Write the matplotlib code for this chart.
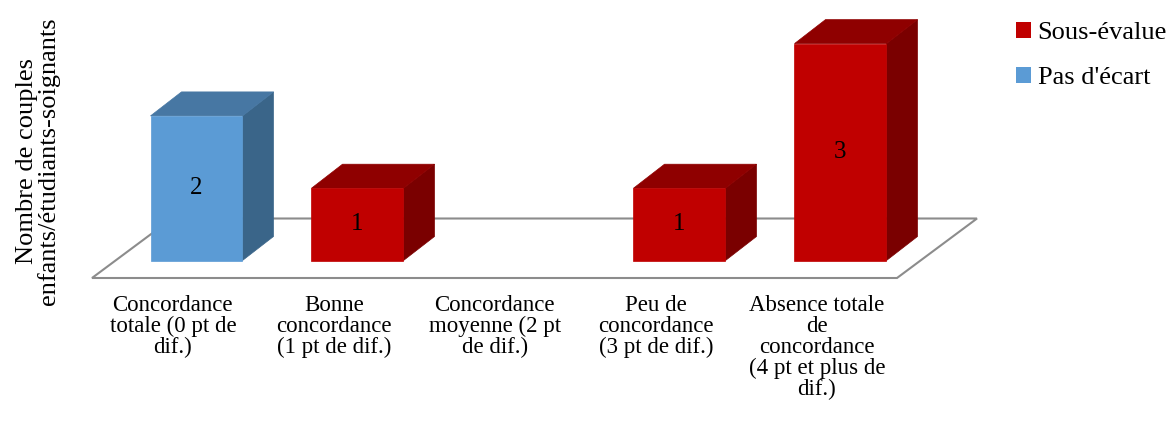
import matplotlib
matplotlib.use("Agg")
import matplotlib.pyplot as plt
from matplotlib.patches import Polygon, Patch

plt.rcParams["font.family"] = ["Liberation Serif", "DejaVu Serif"]

categories = [
    "Concordance\ntotale (0 pt de\ndif.)",
    "Bonne\nconcordance\n(1 pt de dif.)",
    "Concordance\nmoyenne (2 pt\nde dif.)",
    "Peu de\nconcordance\n(3 pt de dif.)",
    "Absence totale\nde\nconcordance\n(4 pt et plus de\ndif.)",
]
sous_evalue = [0, 1, 0, 1, 3]
pas_ecart = [2, 0, 0, 0, 0]
ylabel = "Nombre de couples\nenfants/étudiants-soignants"

W, H = 1170, 425
X0, XSTEP = 196.5, 161.0
Y0, YSTEP = 260.5, 72.3


def xpx(p):
    return (p - X0) / XSTEP


def ypx(p):
    return (Y0 - p) / YSTEP


fig = plt.figure(figsize=(W / 100, H / 100), dpi=100)
ax = fig.add_axes([0, 0, 1, 1])
ax.set_xlim(xpx(0), xpx(W))
ax.set_ylim(ypx(H), ypx(0))
ax.axis("off")

bar_w = 92 / XSTEP
dx = 31 / XSTEP
dy = 24 / YSTEP

# floor of the 3d plot
floor = [(92, 278), (897, 278), (977, 218.5), (172, 218.5)]
ax.add_patch(Polygon([(xpx(a), ypx(b)) for a, b in floor], closed=True,
                     facecolor="white", edgecolor="#8c8c8c", lw=1.5, zorder=1))


def bar3d(x, v, front, top, side):
    l, r = x - bar_w / 2, x + bar_w / 2
    ax.add_patch(Polygon([(r, 0), (r + dx, dy), (r + dx, v + dy), (r, v)],
                         facecolor=side, edgecolor=side, lw=0.5, zorder=2))
    ax.add_patch(Polygon([(l, v), (r, v), (r + dx, v + dy), (l + dx, v + dy)],
                         facecolor=top, edgecolor=top, lw=0.5, zorder=2))
    ax.add_patch(Polygon([(l, 0), (r, 0), (r, v), (l, v)],
                         facecolor=front, edgecolor=front, lw=0.5, zorder=3))
    ax.text(x, v / 2, str(v), ha="center", va="center", fontsize=18,
            color="black", zorder=4)


for i, v in enumerate(sous_evalue):
    if v > 0:
        bar3d(i, v, "#c00000", "#8f0000", "#7a0000")
for i, v in enumerate(pas_ecart):
    if v > 0:
        bar3d(i, v, "#5b9bd5", "#4777a3", "#3a6589")

for i, c in enumerate(categories):
    ax.text(i - 0.145 if False else i - 0.147, ypx(295), c, ha="center", va="top",
            fontsize=16.5, linespacing=1.0, clip_on=False)

ax.text(xpx(38), ypx(161), ylabel, rotation=90, ha="center", va="center",
        fontsize=19, linespacing=0.98, multialignment="center")

handles = [Patch(facecolor="#c00000", label="Sous-évalue"),
           Patch(facecolor="#5b9bd5", label="Pas d'écart")]
ax.legend(handles=handles, loc="upper left", bbox_to_anchor=(1008 / W, 1 - 14 / H),
          frameon=False, fontsize=19, handlelength=0.57, handleheight=0.55,
          handletextpad=0.25, labelspacing=0.85, borderpad=0.3, borderaxespad=0)

fig.savefig("out.png", dpi=100)
